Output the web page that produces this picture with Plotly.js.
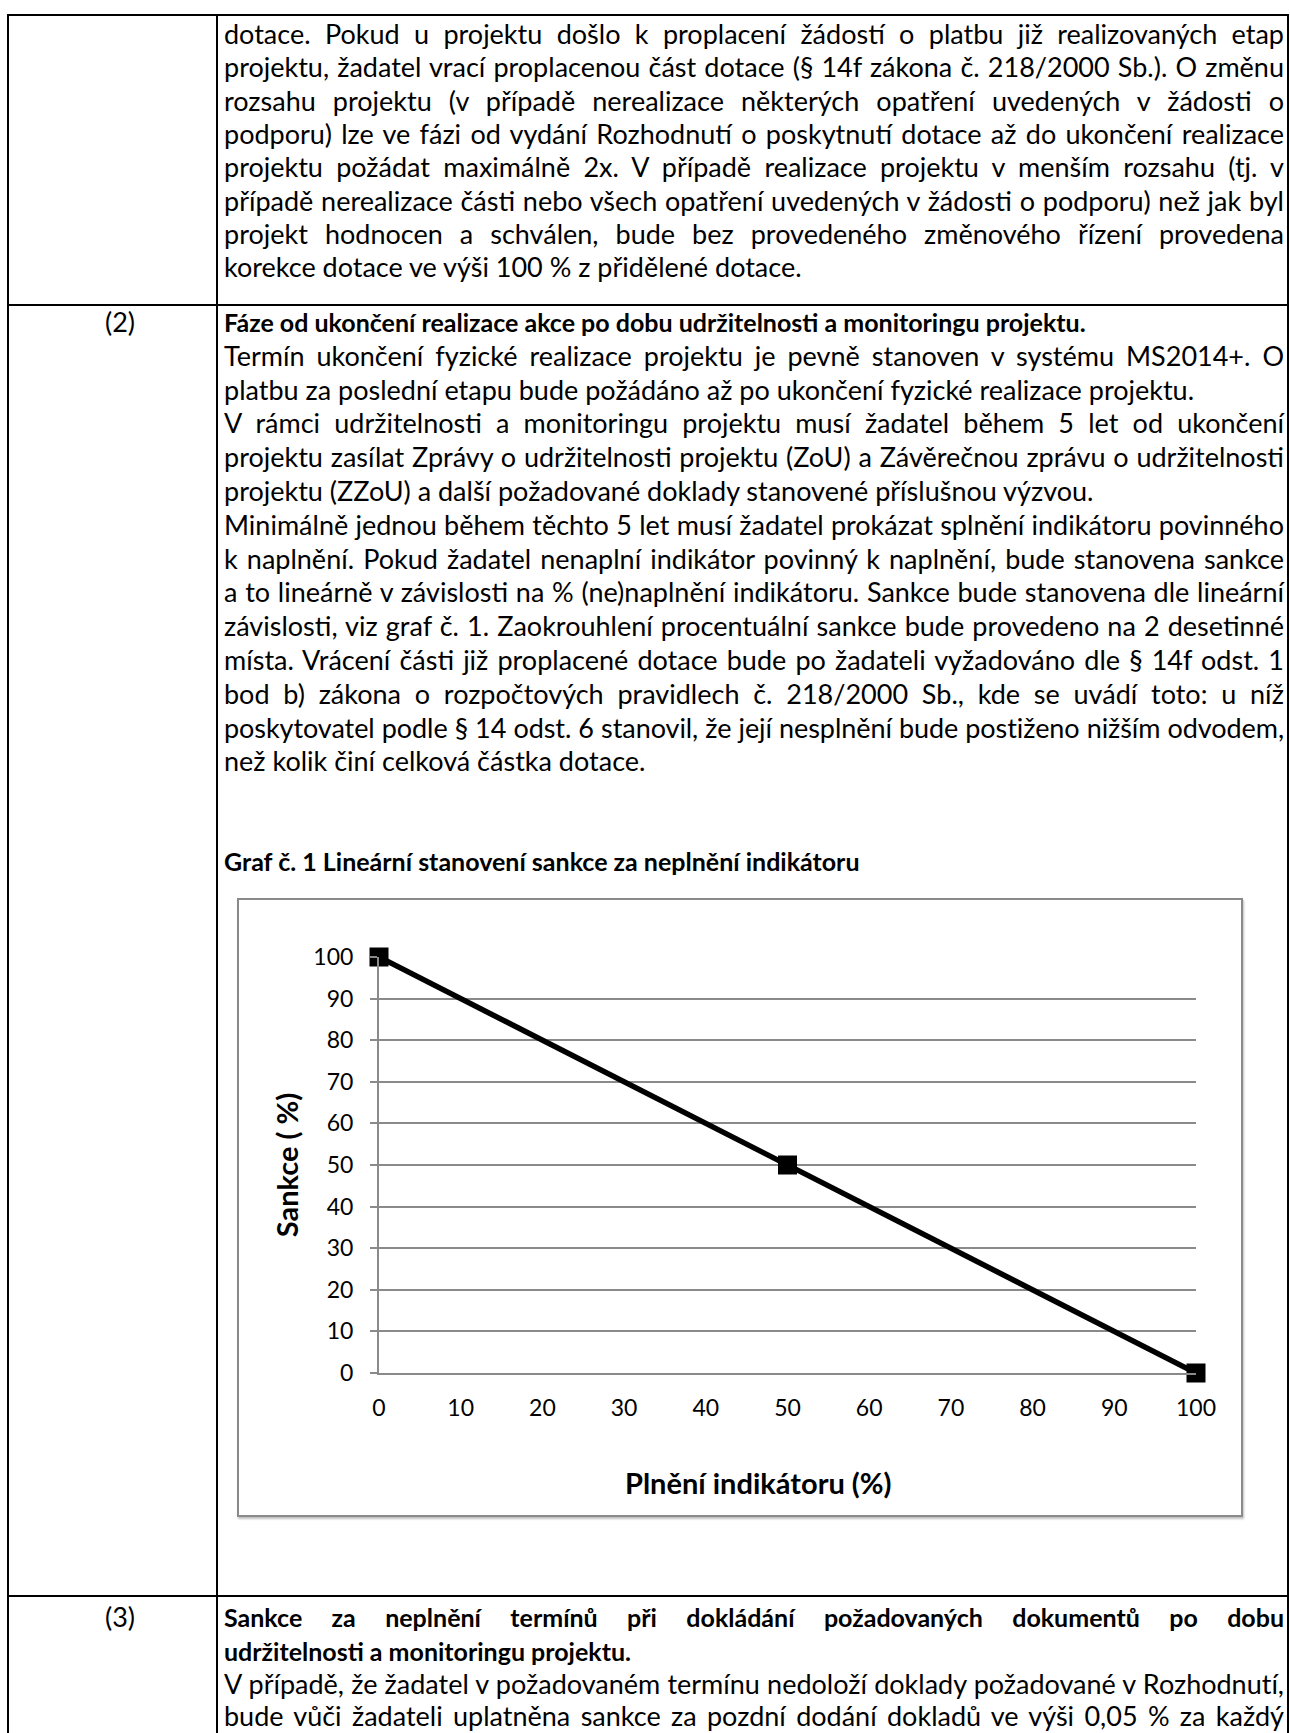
<!DOCTYPE html>
<html>
<head>
<meta charset="utf-8">
<script src="https://cdn.plot.ly/plotly-3.0.1.min.js"></script>
<style>
  html, body { margin:0; padding:0; background:#fff; }
  body { width:1290px; height:1733px; overflow:hidden; position:relative; font-family:'Lato', 'Open Sans', sans-serif; color:#000; }
  .hl { position:absolute; background:#000; height:2px; }
  .vl { position:absolute; background:#000; width:2px; }
  .ln { position:absolute; left:224px; width:1060px; height:34px; line-height:34px; font-size:27px; white-space:nowrap; }
  .b { font-weight:bold; font-size:25px; }
  .num { position:absolute; left:20px; width:200px; text-align:center; height:34px; line-height:34px; font-size:27px; }
  #box { position:absolute; left:237px; top:898px; width:1006px; height:619px; box-sizing:border-box; border:2px solid #8a8a8a; box-shadow:1px 2px 2px rgba(0,0,0,0.25); pointer-events:none; }
  #chart { position:absolute; left:237px; top:898px; width:1006px; height:619px; }
</style>
</head>
<body>
<!-- table borders -->
<div class="hl" style="left:8px; top:14px; width:1281px;"></div>
<div class="hl" style="left:8px; top:304px; width:1281px;"></div>
<div class="hl" style="left:8px; top:1595px; width:1281px;"></div>
<div class="vl" style="left:7px; top:14px; height:1719px;"></div>
<div class="vl" style="left:216px; top:14px; height:1719px;"></div>
<div class="vl" style="left:1287px; top:14px; height:1719px;"></div>

<!-- row 1 -->
<div class="ln j" style="top:17px"><span>dotace. Pokud u projektu došlo k proplacení žádostí o platbu již realizovaných etap</span></div>
<div class="ln j" style="top:50px"><span>projektu, žadatel vrací proplacenou část dotace (§ 14f zákona č. 218/2000 Sb.). O změnu</span></div>
<div class="ln j" style="top:84px"><span>rozsahu projektu (v případě nerealizace některých opatření uvedených v žádosti o</span></div>
<div class="ln j" style="top:117px"><span>podporu) lze ve fázi od vydání Rozhodnutí o poskytnutí dotace až do ukončení realizace</span></div>
<div class="ln j" style="top:150px"><span>projektu požádat maximálně 2x. V případě realizace projektu v menším rozsahu (tj. v</span></div>
<div class="ln j" style="top:184px"><span>případě nerealizace části nebo všech opatření uvedených v žádosti o podporu) než jak byl</span></div>
<div class="ln j" style="top:217px"><span>projekt hodnocen a schválen, bude bez provedeného změnového řízení provedena</span></div>
<div class="ln" style="top:250px"><span>korekce dotace ve výši 100 % z přidělené dotace.</span></div>

<!-- row 2 -->
<div class="num" style="top:305px">(2)</div>
<div class="ln b" style="top:305px"><span>Fáze od ukončení realizace akce po dobu udržitelnosti a monitoringu projektu.</span></div>
<div class="ln j" style="top:339px"><span>Termín ukončení fyzické realizace projektu je pevně stanoven v systému MS2014+. O</span></div>
<div class="ln" style="top:373px"><span>platbu za poslední etapu bude požádáno až po ukončení fyzické realizace projektu.</span></div>
<div class="ln j" style="top:406px"><span>V rámci udržitelnosti a monitoringu projektu musí žadatel během 5 let od ukončení</span></div>
<div class="ln j" style="top:440px"><span>projektu zasílat Zprávy o udržitelnosti projektu (ZoU) a Závěrečnou zprávu o udržitelnosti</span></div>
<div class="ln" style="top:474px"><span>projektu (ZZoU) a další požadované doklady stanovené příslušnou výzvou.</span></div>
<div class="ln j" style="top:508px"><span>Minimálně jednou během těchto 5 let musí žadatel prokázat splnění indikátoru povinného</span></div>
<div class="ln j" style="top:542px"><span>k naplnění. Pokud žadatel nenaplní indikátor povinný k naplnění, bude stanovena sankce</span></div>
<div class="ln j" style="top:575px"><span>a to lineárně v závislosti na % (ne)naplnění indikátoru. Sankce bude stanovena dle lineární</span></div>
<div class="ln j" style="top:609px"><span>závislosti, viz graf č. 1. Zaokrouhlení procentuální sankce bude provedeno na 2 desetinné</span></div>
<div class="ln j" style="top:643px"><span>místa. Vrácení části již proplacené dotace bude po žadateli vyžadováno dle § 14f odst. 1</span></div>
<div class="ln j" style="top:677px"><span>bod b) zákona o rozpočtových pravidlech č. 218/2000 Sb., kde se uvádí toto: u níž</span></div>
<div class="ln j" style="top:711px"><span>poskytovatel podle § 14 odst. 6 stanovil, že její nesplnění bude postiženo nižším odvodem,</span></div>
<div class="ln" style="top:744px"><span>než kolik činí celková částka dotace.</span></div>
<div class="ln b" style="top:844px"><span>Graf č. 1 Lineární stanovení sankce za neplnění indikátoru</span></div>

<div id="chart"></div>
<div id="box"></div>

<!-- row 3 -->
<div class="num" style="top:1600px">(3)</div>
<div class="ln b j" style="top:1600px"><span>Sankce za neplnění termínů při dokládání požadovaných dokumentů po dobu</span></div>
<div class="ln b" style="top:1634px"><span>udržitelnosti a monitoringu projektu.</span></div>
<div class="ln j" style="top:1667px"><span>V případě, že žadatel v požadovaném termínu nedoloží doklady požadované v Rozhodnutí,</span></div>
<div class="ln j" style="top:1699px"><span>bude vůči žadateli uplatněna sankce za pozdní dodání dokladů ve výši 0,05 % za každý</span></div>

<script>
// ---- chart data ----
const plneni = [0, 50, 100];          // Plnění indikátoru (%)
const sankce = [100, 50, 0];          // Sankce (%)
const xTickVals = [0, 10, 20, 30, 40, 50, 60, 70, 80, 90, 100];
const yTickVals = [0, 10, 20, 30, 40, 50, 60, 70, 80, 90, 100];
const xTitle = 'Plnění indikátoru (%)';
const yTitle = 'Sankce ( %)';

const gridGray = '#8a8a8a';

const trace = {
  x: plneni,
  y: sankce,
  type: 'scatter',
  mode: 'lines+markers',
  line: { color: '#000', width: 5.5 },
  marker: { symbol: 'square', size: 19, color: '#000' },
  cliponaxis: false,
  hoverinfo: 'skip'
};

const layout = {
  width: 1006,
  height: 619,
  margin: { l: 142, r: 47, t: 59, b: 144 },
  paper_bgcolor: 'rgba(0,0,0,0)',
  plot_bgcolor: 'rgba(0,0,0,0)',
  showlegend: false,
  font: { family: 'Lato, sans-serif', color: '#000' },
  xaxis: {
    range: [0, 100],
    tickvals: xTickVals,
    showgrid: false,
    zeroline: false,
    showline: true,
    linecolor: gridGray,
    linewidth: 2,
    ticks: '',
    ticklabelstandoff: 13,
    tickfont: { size: 23, family: 'Lato, sans-serif', color: '#000' },
    fixedrange: true
  },
  yaxis: {
    range: [0, 100],
    tickvals: yTickVals,
    showgrid: true,
    gridcolor: gridGray,
    gridwidth: 2,
    zeroline: false,
    showline: true,
    linecolor: gridGray,
    linewidth: 2,
    ticks: 'outside',
    ticklen: 7,
    tickwidth: 2,
    tickcolor: gridGray,
    ticklabelstandoff: 12,
    tickfont: { size: 23, family: 'Lato, sans-serif', color: '#000' },
    title: { text: yTitle, font: { size: 29, family: 'Lato, sans-serif', weight: 'bold', color: '#000' }, standoff: 6 },
    fixedrange: true
  },
  annotations: [{
    text: xTitle,
    xref: 'paper', yref: 'paper',
    x: 0.465, y: -0.264,
    xanchor: 'center', yanchor: 'middle',
    showarrow: false,
    font: { size: 29, family: 'Lato, sans-serif', weight: 'bold', color: '#000' }
  }]
};

Plotly.newPlot('chart', [trace], layout, { displayModeBar: false, staticPlot: true });

// ---- fit text lines ----
function fitLines() {
  const W = 1060;
  document.querySelectorAll('.ln').forEach(el => {
    const span = el.querySelector('span');
    el.style.whiteSpace = 'nowrap';
    el.style.textAlign = 'left';
    el.style.letterSpacing = '0px';
    const w = span.getBoundingClientRect().width;
    if (w > W - 3) {
      const n = span.textContent.length;
      el.style.letterSpacing = ((W - 3 - w) / n) + 'px';
    }
    if (el.classList.contains('j')) {
      el.style.whiteSpace = 'normal';
      el.style.textAlign = 'justify';
      el.style.textAlignLast = 'justify';
    }
  });
}
if (document.fonts && document.fonts.ready) { document.fonts.ready.then(fitLines); } else { fitLines(); }
</script>
</body>
</html>
